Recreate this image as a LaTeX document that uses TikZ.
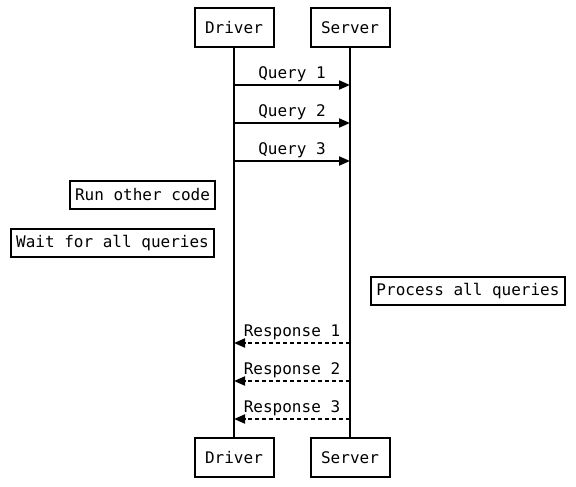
\documentclass[tikz,border=0pt]{standalone}
\usepackage{fontspec}
\setmonofont{DejaVu Sans Mono}
\usepackage{tikz}
\usetikzlibrary{arrows.meta}

\begin{document}
\begin{tikzpicture}[x=1pt, y=-1pt,
		every node/.style={font=\ttfamily\fontsize{16}{19}\selectfont},
		actor/.style={draw, line width=2pt, minimum width=79pt, minimum height=39pt, inner sep=0pt},
		note/.style={draw, line width=2pt, minimum height=28pt, inner xsep=5.5pt},
		msg/.style={line width=2pt, -{Triangle[length=11pt, width=9pt]}},
		reply/.style={msg, dash pattern=on 4pt off 3pt}]
		\useasboundingbox (0,0) rectangle (576,487);
		% actors
		\node[actor] (drvtop) at (234,28) {Driver};
		\node[actor] (srvtop) at (350,28) {Server};
		\node[actor] (drvbot) at (234,457.5) {Driver};
		\node[actor] (srvbot) at (350,457.5) {Server};
		% lifelines
		\draw[line width=2pt] (drvtop.south) -- (drvbot.north);
		\draw[line width=2pt] (srvtop.south) -- (srvbot.north);
		% queries
		\foreach \m/\y in{
				1/85,
				2/123,
				3/161
		}{
		\coordinate (qd\m) at (234,\y);
		\coordinate (qs\m) at (350,\y);
		\draw[msg] (qd\m) -- node[above, inner sep=2.5pt]{Query \m} (qs\m);
		}
		% notes
		\node[note] (runcode) at (142.5,195) {Run other code};
		\node[note] (waitall) at (112.5,243) {Wait for all queries};
		\node[note] (procall) at (468,291) {Process all queries};
		% responses
		\foreach \m/\y in{
				1/343,
				2/381,
				3/419
		}{
		\coordinate (rs\m) at (350,\y);
		\coordinate (rd\m) at (234,\y);
		\draw[reply] (rs\m) -- node[above, inner sep=2.5pt]{Response \m} (rd\m);
		}
\end{tikzpicture}
\end{document}
